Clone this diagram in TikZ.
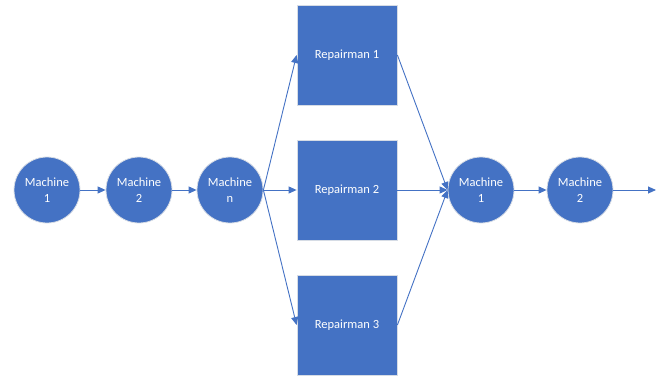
\documentclass[tikz,border=0pt]{standalone}
\usepackage{fontspec}
\setmainfont{Carlito}
\usetikzlibrary{arrows.meta}
\definecolor{blu}{HTML}{4472C4}
\definecolor{edge}{HTML}{D6DCE5}
\begin{document}
\begin{tikzpicture}[x=1pt,y=-1pt,
  mach/.style={circle,fill=blu,draw=edge,line width=0.8pt,minimum size=66pt,inner sep=0pt,text=white,align=center,font=\fontsize{12.5}{16}\selectfont},
  rep/.style={rectangle,fill=blu,draw=edge,line width=0.8pt,minimum width=100pt,minimum height=100pt,inner sep=0pt,text=white,font=\fontsize{12.5}{16}\selectfont},
  conn/.style={draw=blu,line width=0.9pt,-{Triangle[length=8pt,width=7pt]}}]
\useasboundingbox (0,0) rectangle (660,378);
\node[mach] (m1) at (47,190) {Machine\\1};
\node[mach] (m2) at (139,190) {Machine\\2};
\node[mach] (mn) at (230,190) {Machine\\n};
\node[rep] (r1) at (347,55) {Repairman 1};
\node[rep] (r2) at (347,190) {Repairman 2};
\node[rep] (r3) at (347,325) {Repairman 3};
\node[mach] (b1) at (481,190) {Machine\\1};
\node[mach] (b2) at (580,190) {Machine\\2};
\coordinate (end) at (656,190);
\draw[conn] (m1) -- (m2);
\draw[conn] (m2) -- (mn);
\draw[conn] (mn.east) -- (r1.west);
\draw[conn] (mn.east) -- (r2.west);
\draw[conn] (mn.east) -- (r3.west);
\draw[conn] (r1.east) -- (b1.west);
\draw[conn] (r2.east) -- (b1.west);
\draw[conn] (r3.east) -- (b1.west);
\draw[conn] (b1) -- (b2);
\draw[conn] (b2.east) -- (end);
\end{tikzpicture}
\end{document}
